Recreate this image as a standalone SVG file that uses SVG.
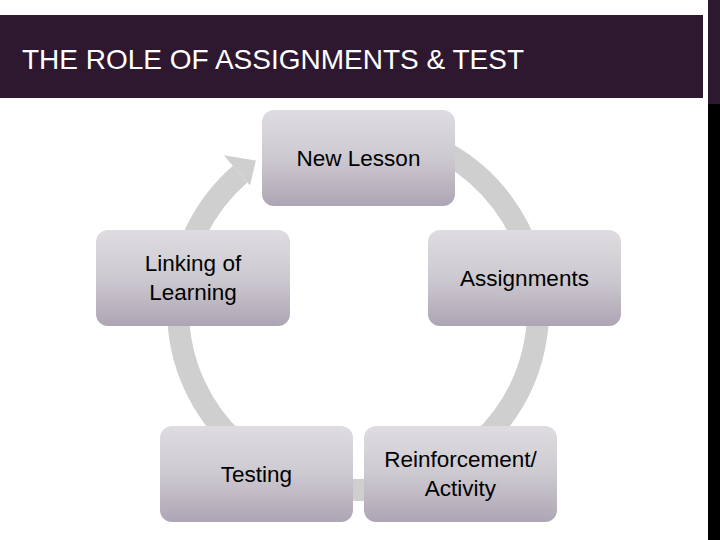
<svg xmlns="http://www.w3.org/2000/svg" width="720" height="540" viewBox="0 0 720 540">
  <style>
    .node rect { fill: url(#nodeGrad); }
    .label { font-family: "Liberation Sans", Arial, sans-serif; font-size: 22.5px; fill: #000; text-anchor: middle; }
    .title { font-family: "Liberation Sans", Arial, sans-serif; font-size: 28px; fill: #ffffff; }
    .ring { fill: none; stroke: #cfcfcf; stroke-width: 22; stroke-linecap: butt; }
    .head { fill: #cfcfcf; }
  </style>
  <defs>
    <linearGradient id="nodeGrad" x1="0" y1="0" x2="0" y2="1">
      <stop offset="0" stop-color="#dedce1"/>
      <stop offset="0.5" stop-color="#cdc9d0"/>
      <stop offset="1" stop-color="#ada5b4"/>
    </linearGradient>
  </defs>

  <rect x="0" y="0" width="720" height="540" fill="#ffffff"/>

  <g id="header">
    <rect x="0" y="15" width="703" height="83" fill="#2d1830"/>
    <text class="title" x="22" y="69">THE ROLE OF ASSIGNMENTS &amp; TEST</text>
    <rect x="708" y="0" width="12" height="104" fill="#2d1830"/>
    <rect x="708" y="104" width="12" height="436" fill="#000000"/>
  </g>

  <g id="connectors">
    <path class="ring" d="M 448 154.1 A 180 180 0 1 1 240.1 174.1"/>
    <polygon class="head" points="223.7,155.2 255.9,160.4 250,185.4"/>
  </g>

  <g id="node-new-lesson" class="node">
    <rect x="262" y="110" width="193" height="96" rx="12" ry="12"/>
    <text class="label" x="358.5" y="166">New Lesson</text>
  </g>

  <g id="node-assignments" class="node">
    <rect x="428" y="230" width="193" height="96" rx="12" ry="12"/>
    <text class="label" x="524.5" y="286">Assignments</text>
  </g>

  <g id="node-reinforcement" class="node">
    <rect x="364" y="426" width="193" height="96" rx="12" ry="12"/>
    <text class="label" x="460.5" y="467">Reinforcement/</text>
    <text class="label" x="460.5" y="495.5">Activity</text>
  </g>

  <g id="node-testing" class="node">
    <rect x="160" y="426" width="193" height="96" rx="12" ry="12"/>
    <text class="label" x="256.5" y="482">Testing</text>
  </g>

  <g id="node-linking" class="node">
    <rect x="96" y="230" width="194" height="96" rx="12" ry="12"/>
    <text class="label" x="193" y="271">Linking of</text>
    <text class="label" x="193" y="299.5">Learning</text>
  </g>
</svg>
